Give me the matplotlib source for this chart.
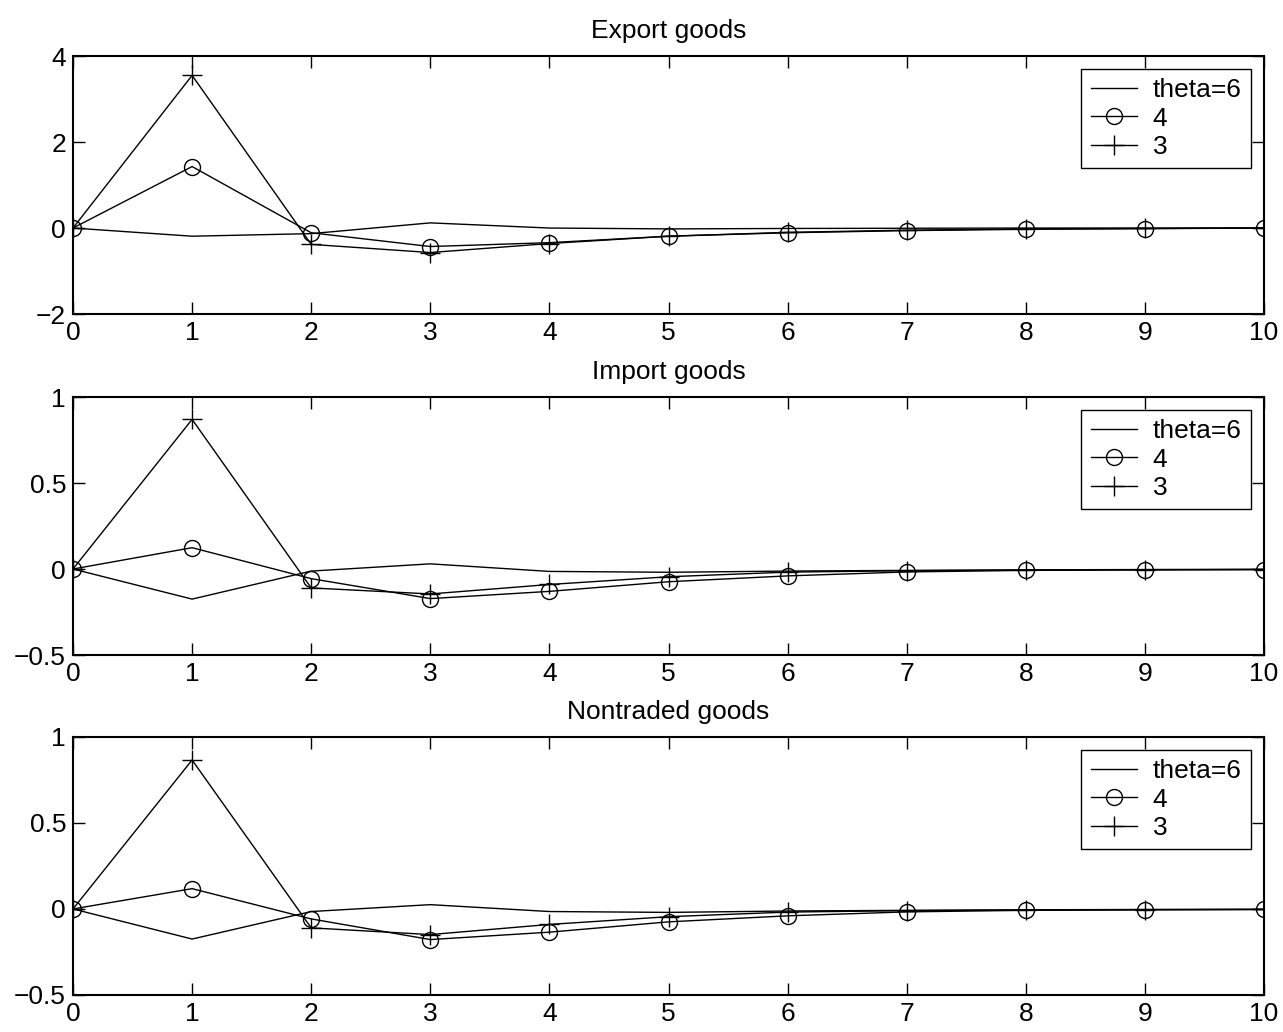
import numpy as np
import matplotlib.pyplot as plt

plt.rcParams['font.family'] = ['Liberation Sans', 'DejaVu Sans']

periods = np.arange(0, 11)
legend_labels = ['theta=6', '4', '3']

# impulse responses, one array per theta value
export_theta6 = [0, -0.19, -0.13, 0.12, 0.0, -0.02, -0.01, -0.005, 0, 0, 0]
export_theta4 = [0, 1.43, -0.11, -0.43, -0.34, -0.19, -0.11, -0.06, -0.03, -0.015, 0.0]
export_theta3 = [0, 3.55, -0.38, -0.57, -0.36, -0.19, -0.10, -0.05, -0.02, -0.01, 0.0]

import_theta6 = [0, -0.175, -0.012, 0.03, -0.014, -0.019, -0.012, -0.008, -0.005, -0.003, -0.002]
import_theta4 = [0, 0.124, -0.056, -0.172, -0.13, -0.074, -0.04, -0.017, -0.008, -0.005, -0.003]
import_theta3 = [0, 0.87, -0.11, -0.145, -0.09, -0.045, -0.018, -0.01, -0.006, -0.004, -0.003]

nontraded_theta6 = [0, -0.175, -0.015, 0.025, -0.015, -0.02, -0.012, -0.008, -0.005, -0.003, -0.002]
nontraded_theta4 = [0, 0.118, -0.058, -0.178, -0.135, -0.075, -0.04, -0.017, -0.008, -0.005, -0.003]
nontraded_theta3 = [0, 0.866, -0.11, -0.149, -0.09, -0.045, -0.018, -0.01, -0.006, -0.004, -0.003]

panels = [
    ('Export goods', export_theta6, export_theta4, export_theta3, (-2, 4), [-2, 0, 2, 4], ['\u22122', '0', '2', '4']),
    ('Import goods', import_theta6, import_theta4, import_theta3, (-0.5, 1), [-0.5, 0, 0.5, 1], ['\u22120.5', '0', '0.5', '1']),
    ('Nontraded goods', nontraded_theta6, nontraded_theta4, nontraded_theta3, (-0.5, 1), [-0.5, 0, 0.5, 1], ['\u22120.5', '0', '0.5', '1']),
]

fig = plt.figure(figsize=(12.83, 10.32), dpi=100)
left, width, height = 0.0569, 0.9283, 0.25
bottoms = [0.6957, 0.3653, 0.0359]

for (title, th6, th4, th3, ylim, yt, ytl), b in zip(panels, bottoms):
    ax = fig.add_axes([left, b, width, height])
    ax.plot(periods, th6, color='black', linewidth=1.0, label=legend_labels[0])
    ax.plot(periods, th4, color='black', linewidth=1.0, marker='o', markersize=11.5,
            markerfacecolor='none', markeredgecolor='black', markeredgewidth=1.0, label=legend_labels[1])
    ax.plot(periods, th3, color='black', linewidth=1.0, marker='+', markersize=14,
            markeredgewidth=1.0, label=legend_labels[2])
    ax.set_xlim(0, 10)
    ax.set_ylim(*ylim)
    ax.set_xticks(periods)
    ax.set_yticks(yt)
    ax.set_yticklabels(ytl)
    ax.tick_params(direction='in', length=8.6, width=1.0, labelsize=19, pad=5,
                   top=True, right=True)
    for s in ax.spines.values():
        s.set_linewidth(1.5)
    ax.set_title(title, fontsize=19, pad=13)
    leg = ax.legend(loc='upper right', fontsize=19, frameon=True, fancybox=False,
                    edgecolor='black', framealpha=1, borderaxespad=0.5,
                    handlelength=1.75, handletextpad=0.6, labelspacing=0.16,
                    borderpad=0.35)
    leg.get_frame().set_linewidth(1.0)

fig.savefig('out.png', dpi=100, facecolor='white')
